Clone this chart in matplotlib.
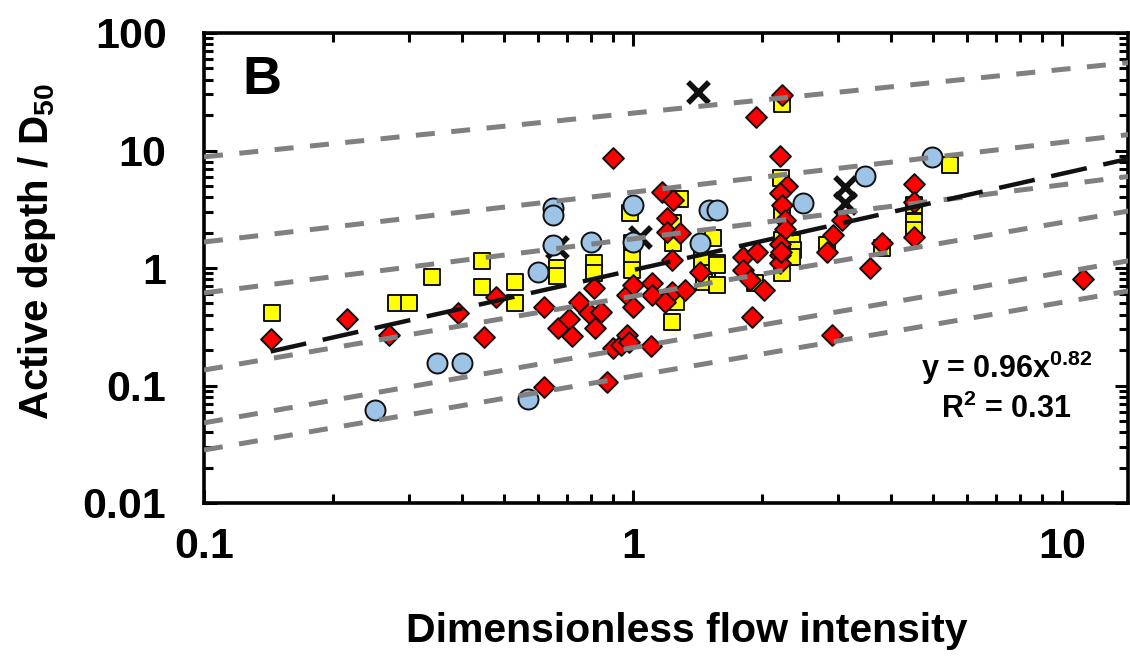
import matplotlib
matplotlib.use("Agg")
import matplotlib.pyplot as plt
import numpy as np
from matplotlib import font_manager
from matplotlib.ticker import LogLocator, NullFormatter, FixedLocator, FixedFormatter

installed = {f.name for f in font_manager.fontManager.ttflist}
FONT = "Liberation Sans Narrow" if "Liberation Sans Narrow" in installed else "Liberation Sans"
plt.rcParams["font.family"] = [FONT, "DejaVu Sans"]
plt.rcParams["mathtext.fontset"] = "custom"
plt.rcParams["mathtext.rm"] = FONT + ":bold"
plt.rcParams["mathtext.bf"] = FONT + ":bold"
plt.rcParams["mathtext.it"] = FONT + ":bold"
plt.rcParams["mathtext.default"] = "bf"

# --- data -------------------------------------------------------------
red_x = [0.143, 0.215, 0.27, 0.39, 0.45, 0.48, 0.62, 0.62, 0.67, 0.71, 0.72, 0.75,
         0.79, 0.81, 0.815, 0.84, 0.87, 0.90, 0.94, 0.97, 0.98, 1.10, 0.97, 1.0,
         1.0, 1.11, 1.11, 0.90, 1.17, 1.24, 1.20, 1.20, 1.29, 1.23, 1.23, 1.19,
         1.32, 1.43, 1.80, 1.95, 1.80, 1.87, 2.02, 1.94, 2.22, 2.20, 2.29, 2.20,
         2.22, 2.26, 2.26, 2.20, 2.20, 2.20, 2.21, 3.07, 2.92, 2.83, 3.80, 4.52,
         4.52, 4.52, 3.57, 11.2, 2.91, 1.89]
red_y = [0.25, 0.37, 0.27, 0.41, 0.26, 0.57, 0.47, 0.097, 0.31, 0.37, 0.265, 0.51,
         0.41, 0.68, 0.31, 0.42, 0.107, 0.21, 0.22, 0.27, 0.235, 0.217, 0.59, 0.72,
         0.47, 0.745, 0.59, 8.6, 4.4, 3.8, 2.67, 2.03, 1.98, 1.17, 0.63, 0.51,
         0.65, 0.92, 1.24, 1.37, 0.96, 0.79, 0.65, 19.3, 29.7, 9.0, 5.0, 4.35,
         3.44, 2.56, 2.15, 1.6, 1.29, 1.10, 1.38, 2.56, 1.91, 1.37, 1.63, 5.2,
         3.65, 1.84, 1.0, 0.80, 0.27, 0.38]

yellow_x = [0.144, 0.28, 0.30, 0.34, 0.445, 0.445, 0.53, 0.53, 0.665, 0.665, 0.81, 0.81,
            0.985, 0.995, 0.995, 0.995, 1.29, 1.24, 1.24, 1.23, 1.26, 1.54, 1.45, 1.57,
            1.49, 1.46, 1.57, 1.57, 1.92, 2.23, 2.21, 2.22, 2.22, 2.35, 2.36, 2.22,
            2.35, 2.22, 2.83, 3.80, 4.52, 4.52, 4.52, 5.48]
yellow_y = [0.41, 0.50, 0.50, 0.84, 1.15, 0.69, 0.76, 0.50, 1.0, 0.85, 1.1, 0.9,
            2.95, 1.63, 1.22, 0.96, 3.87, 2.4, 1.63, 0.35, 0.51, 1.8, 1.17, 1.1,
            0.91, 0.76, 0.72, 1.06, 0.74, 25.0, 5.8, 2.94, 1.73, 1.63, 1.42, 1.42,
            1.24, 0.91, 1.57, 1.48, 3.44, 2.46, 2.1, 7.5]

blue_x = [0.25, 0.35, 0.40, 0.57, 0.60, 0.65, 0.65, 0.65, 0.80, 1.0, 1.0, 1.43,
          1.5, 1.57, 2.49, 3.47, 4.98]
blue_y = [0.062, 0.155, 0.155, 0.077, 0.92, 3.24, 2.83, 1.57, 1.68, 3.44, 1.66, 1.63,
          3.1, 3.1, 3.57, 6.1, 8.8]

cross_x = [1.42, 1.04, 0.665, 3.12, 3.12]
cross_y = [31.5, 1.84, 1.51, 4.9, 3.57]

# power-law fit  y = a * x^b
fit_a, fit_b = 0.96, 0.82
fit_x_range = [0.143, 16.0]

# grey reference lines  y = a * x^b
ref_a = [20.8, 4.42, 1.77, 0.575, 0.21, 0.12]
ref_b = [0.372, 0.424, 0.46, 0.628, 0.64, 0.628]
ref_x_range = [0.1, 16.0]

# --- figure -----------------------------------------------------------
fig = plt.figure(figsize=(11.3, 6.57), dpi=100)
ax = fig.add_axes([204 / 1130, 154 / 657, 924 / 1130, 470 / 657])
ax.set_xscale("log")
ax.set_yscale("log")
ax.set_xlim(0.1, 0.1 * 10 ** (924 / 429))
ax.set_ylim(0.01, 100)

edge = "#111111"
ax.scatter(yellow_x, yellow_y, marker="s", s=12 ** 2, c="#ffff00",
           edgecolors=edge, linewidths=1.4, zorder=3)
ax.scatter(red_x, red_y, marker="D", s=10.6 ** 2, c="#ff0000",
           edgecolors=edge, linewidths=1.4, zorder=4)
ax.scatter(cross_x, cross_y, marker="x", s=15 ** 2, c="#111111",
           linewidths=4.0, zorder=5)
ax.scatter(blue_x, blue_y, marker="o", s=14.4 ** 2, c="#9dc3e6",
           edgecolors=edge, linewidths=1.4, zorder=6)

xr = np.array(ref_x_range)
for a, b in zip(ref_a, ref_b):
    ax.plot(xr, a * xr ** b, color="#808080", lw=3.6, dashes=(3.8, 3.3),
            solid_capstyle="butt", zorder=7)

xf = np.array(fit_x_range)
ax.plot(xf, fit_a * xf ** fit_b, color="#111111", lw=3.2, dashes=(8.2, 3.8), zorder=8)

# --- axes styling -----------------------------------------------------
for sp in ax.spines.values():
    sp.set_linewidth(2.6)
ax.tick_params(which="both", direction="in", top=True, right=True, width=2.2)
ax.tick_params(which="major", length=9.5, labelsize=31, pad=27)
ax.tick_params(which="minor", length=6.5)
ax.tick_params(axis="x", which="major", pad=17)

ax.xaxis.set_major_locator(FixedLocator([0.1, 1, 10]))
ax.xaxis.set_major_formatter(FixedFormatter(["0.1", "1", "10"]))
ax.yaxis.set_major_locator(FixedLocator([0.01, 0.1, 1, 10, 100]))
ax.yaxis.set_major_formatter(FixedFormatter(["0.01", "0.1", "1", "10", "100"]))
ax.xaxis.set_minor_locator(LogLocator(base=10, subs=np.arange(2, 10)))
ax.yaxis.set_minor_locator(LogLocator(base=10, subs=np.arange(2, 10)))
ax.xaxis.set_minor_formatter(NullFormatter())
ax.yaxis.set_minor_formatter(NullFormatter())
for lab in ax.get_xticklabels() + ax.get_yticklabels():
    lab.set_fontweight("bold")

ax.set_xlabel("Dimensionless flow intensity", fontsize=29.5, fontweight="bold")
ax.xaxis.set_label_coords(0.522, -0.232)
ax.set_ylabel(r"Active depth / D$_{50}$", fontsize=29, fontweight="bold")
ax.yaxis.set_label_coords(-0.158, 0.535)

ax.text(0.041, 0.87, "B", transform=ax.transAxes, fontsize=39, fontweight="bold",
        va="baseline", ha="left")
ax.text(0.868, 0.265, r"y = 0.96x$^{0.82}$", transform=ax.transAxes, fontsize=22,
        fontweight="bold", ha="center", va="baseline")
ax.text(0.868, 0.18, r"R$^{2}$ = 0.31", transform=ax.transAxes, fontsize=22,
        fontweight="bold", ha="center", va="baseline")

fig.savefig("out.png", dpi=100)
